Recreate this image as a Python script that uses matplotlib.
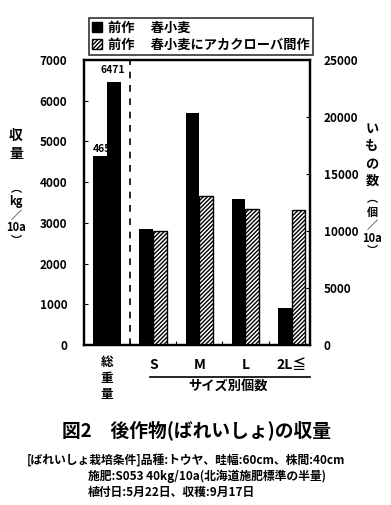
import numpy as np
import matplotlib
matplotlib.use("Agg")
import matplotlib.pyplot as plt
from matplotlib.patches import Patch

plt.rcParams['font.family'] = ['Noto Sans CJK JP', 'DejaVu Sans']
plt.rcParams['font.weight'] = 'bold'
plt.rcParams['hatch.linewidth'] = 1.0

# 総重量 (kg/10a)
total_prev = 4652      # 前作 春小麦
total_clover = 6471    # 前作 春小麦にアカクローバ間作

# サイズ別個数 (個/10a)
sizes = ["S", "M", "L", "2L≦"]
count_prev = [10200, 20400, 12800, 3250]
count_clover = [10000, 13050, 11900, 11850]

fig = plt.figure(figsize=(3.91, 5.05), dpi=100)
ax = fig.add_axes([0.215, 0.317, 0.578, 0.564])
ax2 = ax.twinx()

w = 0.3
# 総重量 (左軸)
ax.bar(-w / 2, total_prev, w, color="black", zorder=2)
ax.bar(w / 2, total_clover, w, color="black", zorder=3)
ax.text(-w - 0.02, total_prev + 50, str(total_prev), fontsize=7.5, ha="left", va="bottom", zorder=2.5)
ax.text(w / 2 - 0.03, total_clover + 170, str(total_clover), fontsize=7.5, ha="center", va="bottom")

# サイズ別個数 (右軸)
x = np.arange(1, len(sizes) + 1)
ax2.bar(x - w / 2, count_prev, w, color="black")
ax2.bar(x + w / 2, count_clover, w, color="white", edgecolor="black", hatch="////////", linewidth=1)

ax.axvline(0.5, color="black", linestyle=(0, (4, 4)), linewidth=1.2)

ax.set_xlim(-0.5, 4.4)
ax.set_ylim(0, 7000)
ax2.set_ylim(0, 25000)
ax.set_yticks(np.arange(0, 7001, 1000))
ax2.set_yticks(np.arange(0, 25001, 5000))
ax.set_xticks([0.5, 1.5, 2.5, 3.5])
ax.set_xticklabels([])
ax.tick_params(axis="x", direction="in", length=3)
ax.tick_params(axis="y", direction="in", length=3, labelsize=8.5, pad=12)
ax2.tick_params(axis="y", direction="in", length=3, labelsize=8.5, pad=10)
for a in (ax, ax2):
    for s in a.spines.values():
        s.set_linewidth(1.6)

# x 軸ラベル
ax.text(0, -0.04, "総\n重\n量", transform=ax.get_xaxis_transform(), ha="center", va="top",
        fontsize=9, linespacing=1.3)
for xi, s in zip(x, sizes):
    ax.text(xi, -0.045, s, transform=ax.get_xaxis_transform(), ha="center", va="top", fontsize=10)
fig.add_artist(plt.Line2D([150 / 391, 310 / 391], [1 - 377 / 505, 1 - 377 / 505], color="black", linewidth=1.2))
fig.text(228 / 391, 1 - 386 / 505, "サイズ別個数", ha="center", va="center", fontsize=9.5)

# y 軸ラベル
fig.text(16 / 391, 1 - 145 / 505, "収\n量", ha="center", va="center", fontsize=10, linespacing=1.4)
fig.text(16 / 391, 1 - 215 / 505, "︵\nkg\n／\n10a\n︶", ha="center", va="center", fontsize=8, linespacing=1.0)
fig.text(372 / 391, 1 - 155 / 505, "い\nも\nの\n数", ha="center", va="center", fontsize=9.5, linespacing=1.3)
fig.text(372 / 391, 1 - 225 / 505, "︵\n個\n／\n10a\n︶", ha="center", va="center", fontsize=8, linespacing=1.0)

# 凡例
handles = [Patch(facecolor="black", edgecolor="black"),
           Patch(facecolor="white", edgecolor="black", hatch="////////")]
labels = ["前作　 春小麦", "前作　 春小麦にアカクローバ間作"]
leg = fig.legend(handles, labels, loc="upper left", bbox_to_anchor=(82 / 391, 1 - 11 / 505),
                 frameon=True, fancybox=False, edgecolor="black", fontsize=9.5,
                 handlelength=0.8, handleheight=0.8, handletextpad=0.4, borderpad=0.25,
                 labelspacing=0.2)
leg.get_frame().set_linewidth(1.2)

# 表題・注記
fig.text(196 / 391, 1 - 430 / 505, "図2　後作物(ばれいしょ)の収量", ha="center", va="center", fontsize=13.5)
fig.text(27 / 391, 1 - 460 / 505, "[ばれいしょ栽培条件]品種:トウヤ、畦幅:60cm、株間:40cm",
         ha="left", va="center", fontsize=8.5)
fig.text(88 / 391, 1 - 476 / 505, "施肥:S053 40kg/10a(北海道施肥標準の半量)",
         ha="left", va="center", fontsize=8.5)
fig.text(88 / 391, 1 - 492 / 505, "植付日:5月22日、収穫:9月17日",
         ha="left", va="center", fontsize=8.5)

fig.savefig("out.png", dpi=100)
